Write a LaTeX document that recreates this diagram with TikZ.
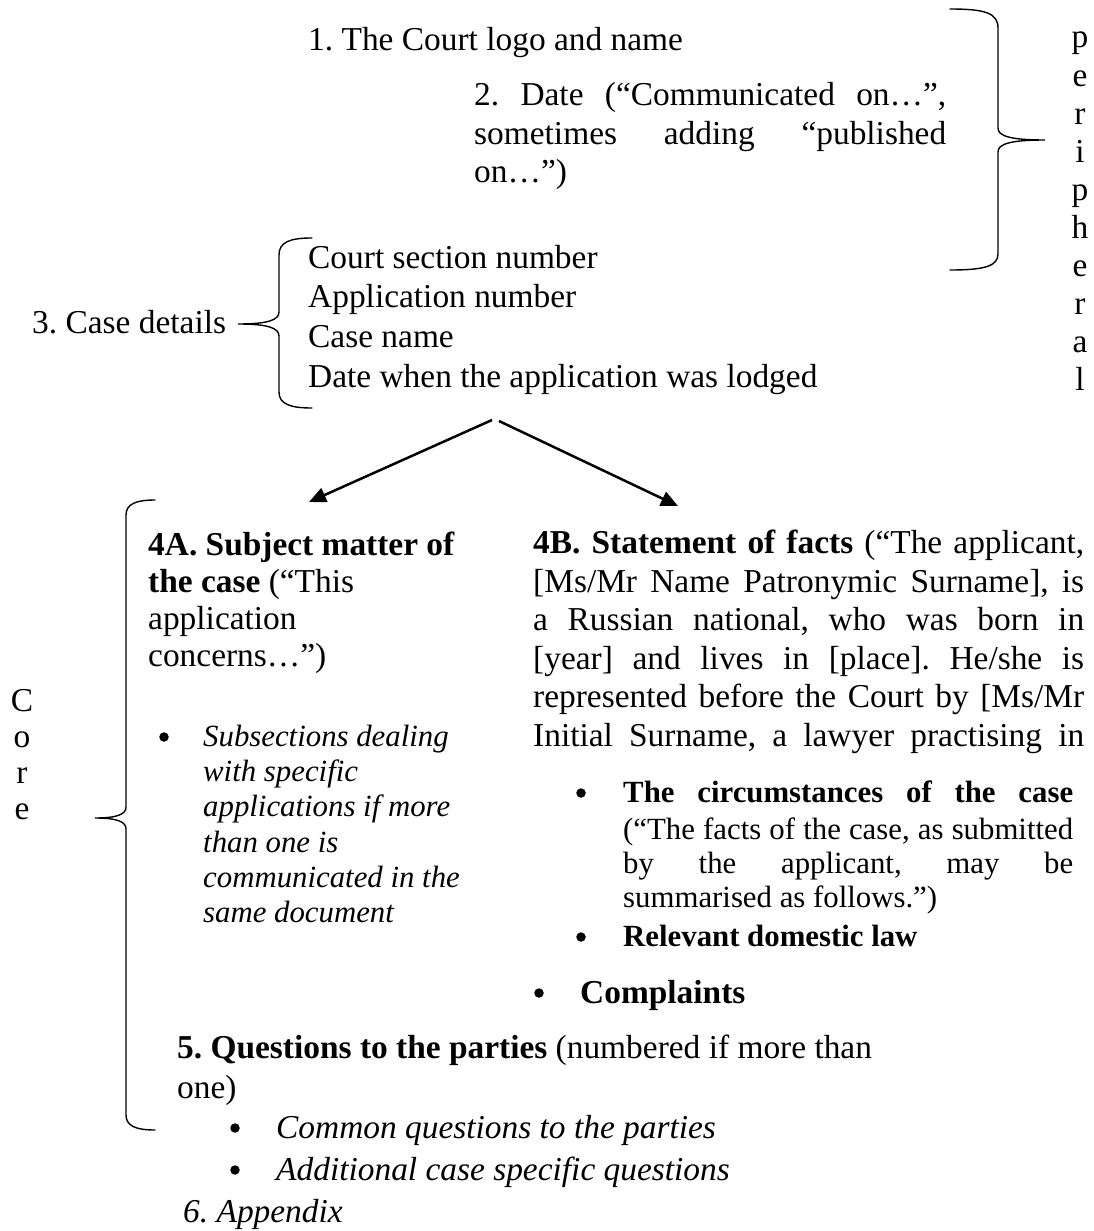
\documentclass[tikz,border=0pt]{standalone}
\usepackage{fontspec}
\setmainfont{Liberation Serif}
\usetikzlibrary{arrows.meta}
\frenchspacing
\newcommand{\Fbig}{\fontsize{33.4}{40}\selectfont}
\newcommand{\Fsm}{\fontsize{30.8}{36}\selectfont}
\newcommand{\jl}[2]{\makebox[#1][s]{#2}}
\begin{document}
\begin{tikzpicture}[x=1pt,y=-1pt,
  txt/.style={anchor=base west,inner sep=0pt,font=\Fbig},
  stxt/.style={anchor=base west,inner sep=0pt,font=\Fsm},
  letter/.style={anchor=base,inner sep=0pt,font=\Fbig},
  dot/.style={circle,fill,inner sep=0pt,minimum size=9.5pt},
  brace/.style={line width=1.4pt,line cap=round},
  arr/.style={line width=2.5pt,-{Triangle[length=17pt,width=15pt]}}]
\useasboundingbox (0,0) rectangle (1093,1231);

% 1 and 2
\node[txt] (t1) at (308,51) {1. The Court logo and name};
\node[txt] (t2a) at (474,105) {\jl{472pt}{2. Date (“Communicated on…”,}};
\node[txt] (t2b) at (474,144) {\jl{472pt}{sometimes adding “published}};
\node[txt] (t2c) at (474,182) {on…”)};

% peripheral brace
\draw[brace] (950,9) .. controls (985,9) and (998,13) .. (998,28) -- (998,128)
  .. controls (998,136) and (1010,140) .. (1045,140)
  .. controls (1010,140) and (998,144) .. (998,152) -- (998,254)
  .. controls (998,266) and (985,270) .. (950,270);

% peripheral letters
\foreach \c [count=\i from 0] in {p,e,r,i,p,h,e,r,a,l}
  \node[letter] (per\i) at (1080,{48+38.1*\i}) {\c};

% 3 case details
\node[txt] (t3) at (32,333) {3. Case details};
\draw[brace] (312,238) .. controls (290,238) and (279,242) .. (279,255) -- (279,312)
  .. controls (279,320) and (268,324) .. (238,324)
  .. controls (268,324) and (279,328) .. (279,336) -- (279,392)
  .. controls (279,404) and (290,408) .. (312,408);
\node[txt] (c1) at (308,268) {Court section number};
\node[txt] (c2) at (308,307) {Application number};
\node[txt] (c3) at (308,347) {Case name};
\node[txt] (c4) at (308,387) {Date when the application was lodged};

% arrows
\coordinate (apexL) at (492,420);
\coordinate (apexR) at (499,421);
\coordinate (tipA) at (309,502);
\coordinate (tipB) at (678,506);
\draw[arr] (apexL) -- (tipA);
\draw[arr] (apexR) -- (tipB);

% core brace and letters
\draw[brace] (155,500) .. controls (136,500) and (126,504) .. (126,515) -- (126,807)
  .. controls (126,814) and (118,818) .. (95,818)
  .. controls (118,818) and (126,822) .. (126,829) -- (126,1115)
  .. controls (126,1126) and (136,1130) .. (155,1130);
\node[letter] (coC) at (22,711) {C};
\node[letter] (coO) at (22,747) {o};
\node[letter] (coR) at (22,783) {r};
\node[letter] (coE) at (22,819) {e};

% 4A
\node[txt] (a1) at (148,555) {\textbf{4A. Subject matter of}};
\node[txt] (a2) at (148,592) {\textbf{the case} (“This};
\node[txt] (a3) at (148,629) {application};
\node[txt] (a4) at (148,666) {concerns…”)};
\node[dot] (ab) at (164,737) {};
\node[stxt] (as1) at (203,746) {\itshape Subsections dealing};
\node[stxt] (as2) at (203,781) {\itshape with specific};
\node[stxt] (as3) at (203,816) {\itshape applications if more};
\node[stxt] (as4) at (203,852) {\itshape than one is};
\node[stxt] (as5) at (203,887) {\itshape communicated in the};
\node[stxt] (as6) at (203,922) {\itshape same document};

% 4B
\node[txt] (b1) at (533,553) {\jl{551pt}{\textbf{4B. Statement of facts} (“The applicant,}};
\node[txt] (b2) at (533,592) {\jl{551pt}{[Ms/Mr Name Patronymic Surname], is}};
\node[txt] (b3) at (533,630) {\jl{551pt}{a Russian national, who was born in}};
\node[txt] (b4) at (533,669) {\jl{551pt}{[year] and lives in [place]. He/she is}};
\node[txt] (b5) at (533,707) {\jl{551pt}{represented before the Court by [Ms/Mr}};
\node[txt] (b6) at (533,746) {\jl{551pt}{Initial Surname, a lawyer practising in}};
\node[dot] (bb1) at (581,793) {};
\node[stxt] (bs1) at (623,802) {\jl{450pt}{\bfseries The circumstances of the case}};
\node[stxt] (bs2) at (623,839) {\jl{450pt}{(“The facts of the case, as submitted}};
\node[stxt] (bs3) at (623,873) {\jl{450pt}{by the applicant, may be}};
\node[stxt] (bs4) at (623,907) {summarised as follows.”)};
\node[dot] (bb2) at (581,937) {};
\node[stxt] (bs5) at (623,946) {\bfseries Relevant domestic law};
\node[dot] (bb3) at (539,993) {};
\node[txt] (comp) at (580,1003) {\bfseries Complaints};

% 5 and 6
\node[txt] (q1) at (177,1058) {\textbf{5. Questions to the parties} (numbered if more than};
\node[txt] (q2) at (177,1098) {one)};
\node[dot] (qb1) at (235,1128) {};
\node[txt] (qs1) at (276,1138) {\itshape Common questions to the parties};
\node[dot] (qb2) at (235,1170) {};
\node[txt] (qs2) at (276,1180) {\itshape Additional case specific questions};
\node[txt] (app) at (183,1222) {\itshape 6. Appendix};
\end{tikzpicture}
\end{document}
